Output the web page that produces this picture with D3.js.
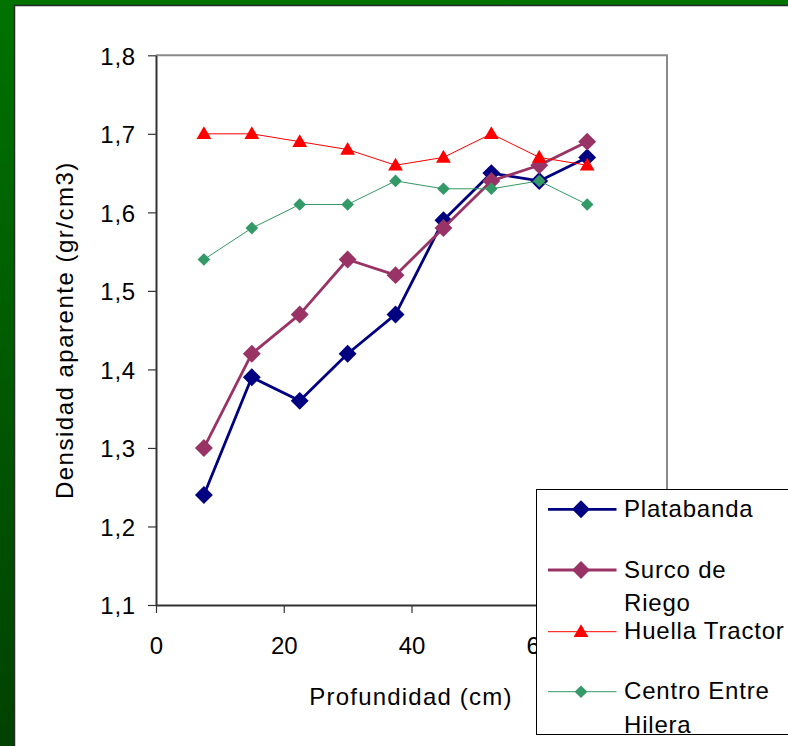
<!DOCTYPE html>
<html><head><meta charset="utf-8">
<script src="https://cdn.jsdelivr.net/npm/d3@7/dist/d3.min.js"></script>
<style>
html,body{margin:0;padding:0;background:#fff;}
svg{display:block;font-family:"Liberation Sans",Arial,sans-serif;}
</style></head>
<body>
<svg id="chart" width="788" height="746"></svg>
<script>
// ---- data ----
const depth = [7.5, 15, 22.5, 30, 37.5, 45, 52.5, 60, 67.5];
const platabanda = [1.24, 1.39, 1.36, 1.42, 1.47, 1.59, 1.65, 1.64, 1.67];
const surcoRiego = [1.30, 1.42, 1.47, 1.54, 1.52, 1.58, 1.64, 1.66, 1.69];
const huellaTractor = [1.70, 1.70, 1.69, 1.68, 1.66, 1.67, 1.70, 1.67, 1.66];
const centroHilera = [1.54, 1.58, 1.61, 1.61, 1.64, 1.63, 1.63, 1.64, 1.61];
const seriesNames = ["Platabanda", "Surco de Riego", "Huella Tractor", "Centro Entre Hilera"];
const xTicks = [0, 20, 40, 60, 80];
const yTicks = [1.1, 1.2, 1.3, 1.4, 1.5, 1.6, 1.7, 1.8];
const xTitle = "Profundidad (cm)";
const yTitle = "Densidad aparente (gr/cm3)";

const seriesStyle = [
  {values: platabanda, color: "#000080", width: 2.8, marker: "diamond", size: 160},
  {values: surcoRiego, color: "#993366", width: 2.8, marker: "diamond", size: 160},
  {values: huellaTractor, color: "#FF0000", width: 1, marker: "triangle", size: 95},
  {values: centroHilera, color: "#339966", width: 1, marker: "diamond", size: 80}
];
const legendLines = [["Platabanda"], ["Surco de", "Riego"], ["Huella Tractor"], ["Centro Entre", "Hilera"]];

const svg = d3.select("#chart");
const W = 788, H = 746;

// ---- frame ----
const defs = svg.append("defs");
const g1 = defs.append("linearGradient").attr("id", "bgGreen").attr("x1", 0).attr("y1", 0).attr("x2", 0).attr("y2", 1);
g1.append("stop").attr("offset", "0%").attr("stop-color", "#007200");
g1.append("stop").attr("offset", "100%").attr("stop-color", "#004200");
svg.append("rect").attr("width", W).attr("height", H).attr("fill", "url(#bgGreen)");
svg.append("rect").attr("x", 14.5).attr("y", 5.5).attr("width", W).attr("height", H)
  .attr("fill", "#fff").attr("stroke", "#2a2a2a").attr("stroke-width", 1.5);

// ---- scales ----
const L = 156, T = 55.3, R = 667, B = 605;
const x = d3.scaleLinear().domain([0, 80]).range([L, R]);
const y = d3.scaleLinear().domain([1.1, 1.8]).range([B, T]);
const fmt = d3.formatLocale({decimal: ",", thousands: ".", grouping: [3], currency: ["", ""]});
const fy = fmt.format(".1f");

// plot border (top/right gray)
svg.append("path").attr("d", `M${L},${T}H${R}V${B}`).attr("fill", "none")
  .attr("stroke", "#8a8a8a").attr("stroke-width", 2);

// y axis
const yAxis = svg.append("g").attr("transform", `translate(${L},0)`)
  .call(d3.axisLeft(y).tickValues(yTicks).tickSize(8).tickSizeOuter(0).tickPadding(12).tickFormat(fy));
yAxis.select(".domain").attr("stroke", "#333").attr("stroke-width", 2);
yAxis.selectAll(".tick line").attr("stroke", "#333").attr("stroke-width", 1.2);
yAxis.selectAll(".tick text").attr("dy", "8.7px").attr("font-size", 24).attr("fill", "#000")
  .attr("font-family", "Liberation Sans, Arial, sans-serif").style("letter-spacing", "0.8px");

// x axis
const xAxis = svg.append("g").attr("transform", `translate(0,${B})`)
  .call(d3.axisBottom(x).tickValues(xTicks).tickSize(8).tickSizeOuter(0).tickFormat(d3.format("d")));
xAxis.select(".domain").attr("stroke", "#333").attr("stroke-width", 2);
xAxis.selectAll(".tick line").attr("stroke", "#333").attr("stroke-width", 1.2);
xAxis.selectAll(".tick text").attr("y", 49).attr("dy", 0).attr("font-size", 24).attr("fill", "#000")
  .attr("font-family", "Liberation Sans, Arial, sans-serif");

// axis titles
svg.append("text").attr("x", (L + R) / 2 - 0.5).attr("y", 705).attr("text-anchor", "middle")
  .attr("font-size", 24).style("letter-spacing", "1.2px").text(xTitle);
svg.append("text").attr("transform", `translate(73,${(T + B) / 2}) rotate(-90)`).attr("text-anchor", "middle")
  .attr("font-size", 24).style("letter-spacing", "1.5px").text(yTitle);

// ---- series ----
function markerPath(type, size) {
  if (type === "triangle") return d3.symbol().type(d3.symbolTriangle).size(size)();
  return d3.symbol().type(d3.symbolSquare).size(size)();
}
const line = d3.line().x((d, i) => x(depth[i])).y(d => y(d));
seriesStyle.forEach(s => {
  const g = svg.append("g");
  g.append("path").datum(s.values).attr("d", line).attr("fill", "none")
    .attr("stroke", s.color).attr("stroke-width", s.width).attr("stroke-linejoin", "round");
  g.selectAll("path.m").data(s.values).join("path").attr("class", "m")
    .attr("d", markerPath(s.marker, s.size))
    .attr("transform", (d, i) => `translate(${x(depth[i])},${y(d) + (s.marker === "triangle" ? 1 : 0)})` + (s.marker === "diamond" ? " rotate(45)" : ""))
    .attr("fill", s.color);
});

// ---- legend ----
const LX = 536.5, LY = 489.5, LB = 734.5;
defs.append("clipPath").attr("id", "legClip").append("rect")
  .attr("x", LX).attr("y", LY).attr("width", 400).attr("height", LB - LY);
const leg = svg.append("g");
leg.append("rect").attr("x", LX).attr("y", LY).attr("width", 400).attr("height", LB - LY)
  .attr("fill", "#fff").attr("stroke", "#000").attr("stroke-width", 1);
const lg = leg.append("g").attr("clip-path", "url(#legClip)");
const rowY = [509.3, 570, 631.7, 691.7];
seriesStyle.forEach((s, k) => {
  const ry = rowY[k];
  lg.append("line").attr("x1", 548).attr("x2", 616.5).attr("y1", ry).attr("y2", ry)
    .attr("stroke", s.color).attr("stroke-width", s.width);
  lg.append("path").attr("d", markerPath(s.marker, s.size))
    .attr("transform", `translate(581,${ry + (s.marker === "triangle" ? 1 : 0)})` + (s.marker === "diamond" ? " rotate(45)" : ""))
    .attr("fill", s.color);
  legendLines[k].forEach((t, j) => {
    lg.append("text").attr("x", 624).attr("y", ry + 7.6 + j * 33.5)
      .attr("font-size", 24).style("letter-spacing", "0.8px").text(t);
  });
});
</script>
</body></html>
